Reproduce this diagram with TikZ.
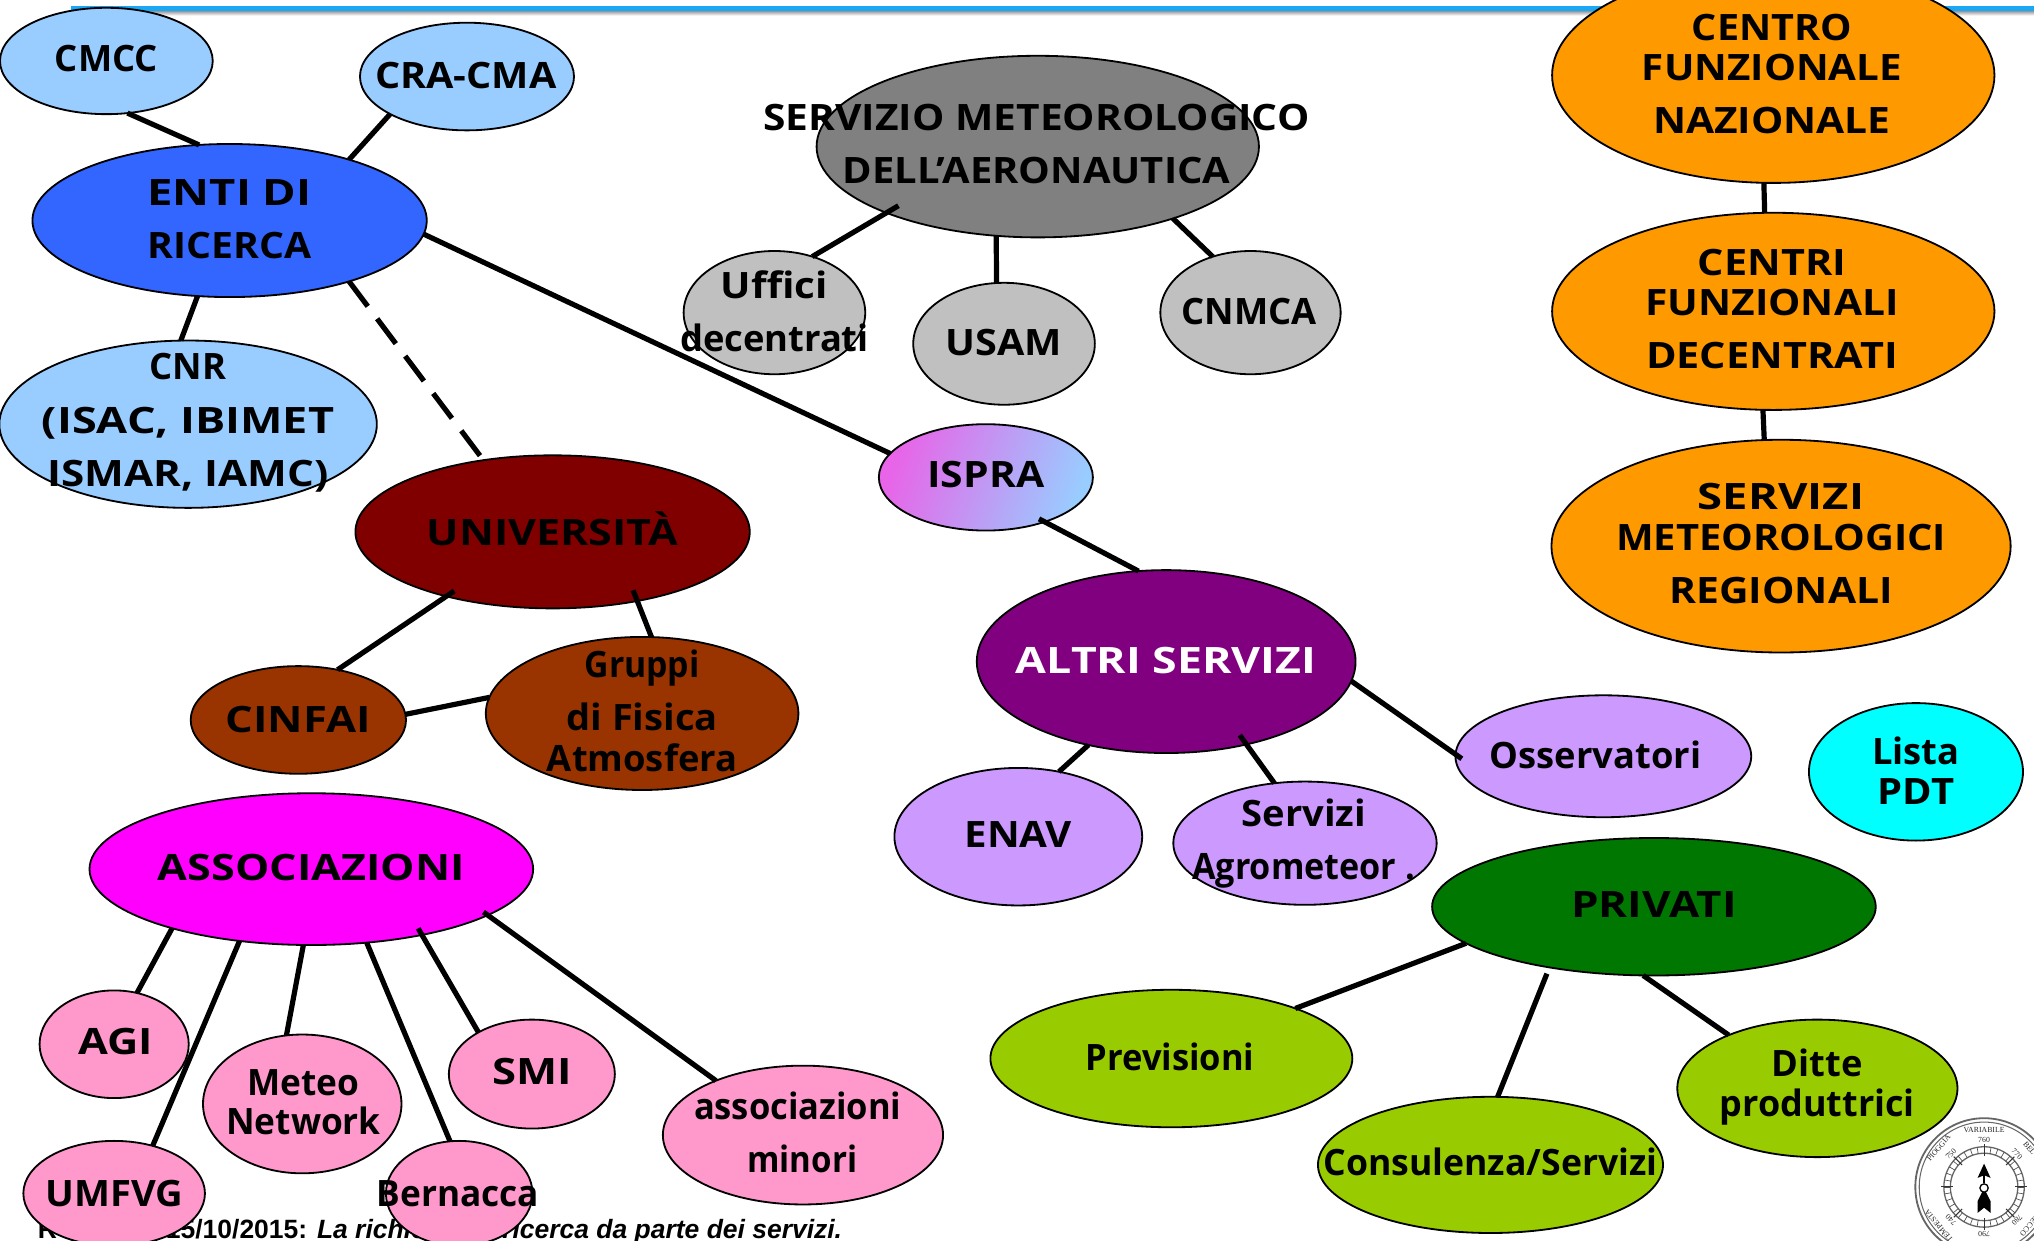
\documentclass[tikz,border=0pt]{standalone}
\usepackage{fontspec}
\setmainfont{Open Sans}[BoldFont={Open Sans Bold}]
\newfontfamily\foot{Liberation Sans}
\newfontfamily\baro{Liberation Serif}
\usetikzlibrary{shapes.geometric,calc}
\definecolor{ricerca}{HTML}{99CCFF}
\definecolor{enti}{HTML}{3366FF}
\definecolor{grigio}{HTML}{808080}
\definecolor{argento}{HTML}{C0C0C0}
\definecolor{arancio}{HTML}{FF9900}
\definecolor{bordeaux}{HTML}{800000}
\definecolor{viola}{HTML}{800080}
\definecolor{ruggine}{HTML}{993300}
\definecolor{lilla}{HTML}{CC99FF}
\definecolor{verde}{HTML}{007700}
\definecolor{lime}{HTML}{99CC00}
\definecolor{rosa}{HTML}{FF99CC}
\definecolor{barra}{HTML}{1AA7F5}
\definecolor{ciano}{HTML}{00FFFF}
\definecolor{fucsia}{HTML}{FF00FF}
\definecolor{orchidea}{HTML}{E864E8}
\tikzset{
  ell/.style={ellipse,draw=black,line width=1.4pt,inner sep=0pt,outer sep=0pt},
  lab/.style={inner sep=0pt,outer sep=0pt,align=center,font=\fontsize{28}{41}\selectfont\bfseries,text=black},
  conn/.style={line width=4pt,black},
  baroring/.style={draw=black!60,line width=1pt},
  barotxt/.style={inner sep=0pt,font=\fontsize{6}{7}\selectfont\baro,text=black!85}
}
\newcommand{\blob}[6]{\node[ell,fill=#6,minimum width=#4pt,minimum height=#5pt] (#1) at (#2,#3) {};}
\newcommand{\lab}[4]{\node[lab] (#1-t) at (#2,#3) {#4};}
\newcommand{\sx}[2]{\scalebox{#1}[1]{#2}}
\newcommand{\conn}[4]{\draw[conn] (#1.#2) -- (#3.#4);}
% connector whose start is not on the border: #3 is the fraction of the way from centre to border
\newcommand{\connin}[5]{\draw[conn] ($(#1.center)!#3!(#1.#2)$) -- (#4.#5);}
\begin{document}
\begin{tikzpicture}[x=1pt,y=-1pt]
\useasboundingbox (0,0) rectangle (1568,956);
\clip (0,0) rectangle (1568,956);
% top bar with its shadow
\shade[top color=black!40,bottom color=white] (55,8.5) rectangle (1568,12);
\fill[barra] (55,4.5) rectangle (1568,8.5);
% footer (behind the ellipses)
\node[anchor=base west,inner sep=0pt,font=\fontsize{20.4}{22}\selectfont\foot\bfseries] (foot) at (29,954.5) {R\hspace{84pt}15/10/2015: \itshape La richiesta di ricerca da parte dei servizi.};
% ellipses
\blob{cmcc}{82}{47}{164}{82}{ricerca}
\blob{cra}{360}{59}{165}{83}{ricerca}
\blob{enti}{177}{170}{304}{118}{enti}
\blob{cnr}{145}{327}{291}{129}{ricerca}
\blob{sma}{800}{113}{341}{140}{grigio}
\blob{uff}{597}{241}{140}{95}{argento}
\blob{usam}{774}{265}{140}{94}{argento}
\blob{cnmca}{964}{241}{139}{95}{argento}
\blob{cfn}{1367}{58}{341}{166}{arancio}
\blob{cfd}{1367}{240}{341}{152}{arancio}
\blob{smr}{1373}{421}{354}{164}{arancio}
\blob{univ}{426}{410}{304}{118}{bordeaux}
\node[ell,left color=orchidea,right color=ricerca,shading angle=70,minimum width=165pt,minimum height=82pt] (ispra) at (760,368) {};
\blob{altri}{899}{510}{292}{141}{viola}
\blob{cinfai}{230}{555}{166}{83}{ruggine}
\blob{gruppi}{495}{550}{241}{118}{ruggine}
\blob{oss}{1236}{583}{228}{94}{lilla}
\blob{lista}{1477}{595}{165}{106}{ciano}
\blob{enav}{785}{645}{191}{106}{lilla}
\blob{agro}{1006}{650}{203}{95}{lilla}
\blob{priv}{1275}{699}{342}{106}{verde}
\blob{assoc}{240}{670}{342}{117}{fucsia}
\blob{agi}{88}{805}{115}{83}{rosa}
\blob{meteo}{233}{851}{153}{107}{rosa}
\blob{smi}{410}{828}{128}{84}{rosa}
\blob{minori}{619}{875}{216}{107}{rosa}
\blob{umfvg}{88}{920}{140}{81}{rosa}
\blob{bern}{354}{920}{113}{81}{rosa}
\blob{prev}{903}{816}{279}{106}{lime}
\blob{cons}{1149}{898}{266}{105}{lime}
\blob{ditte}{1401}{839}{216}{106}{lime}
% connectors
\conn{cmcc}{292.5}{enti}{112.8}
\conn{cra}{206.6}{enti}{27.3}
\conn{enti}{247.5}{cnr}{95.4}
\draw[conn,dash pattern=on 24pt off 12pt] (enti.333.7) -- (univ.134);
\conn{enti}{-4.2}{ispra}{166.6}
\connin{sma}{203.5}{.906}{uff}{56.9}
\conn{sma}{245.4}{usam}{97.3}
\conn{sma}{-28.3}{cnmca}{124.6}
\conn{cfn}{265}{cfd}{95.3}
\conn{cfd}{264.7}{smr}{99}
\connin{ispra}{-38}{.925}{altri}{107.2}
\connin{univ}{211.5}{.92}{cinfai}{52.4}
\connin{univ}{-36}{.866}{gruppi}{83}
\conn{cinfai}{3.5}{gruppi}{174.1}
\conn{altri}{227.3}{enav}{58.7}
\connin{altri}{-45.5}{.894}{agro}{117}
\draw[conn] (altri.-6.5) -- ($(oss.center)!.958!(oss.181.6)$);
\conn{priv}{191.5}{prev}{22}
\connin{priv}{212.7}{1.086}{cons}{84.4}
\conn{priv}{261.4}{ditte}{149.5}
\conn{assoc}{203.3}{agi}{66.3}
\conn{assoc}{225.5}{umfvg}{51.7}
\conn{assoc}{264}{meteo}{103.2}
\conn{assoc}{-53}{bern}{100.4}
\connin{assoc}{-29.6}{.917}{smi}{142.9}
\connin{assoc}{-14.5}{.96}{minori}{148.7}
% labels
\lab{cmcc}{82}{45}{CMCC}
\lab{cra}{359}{58}{\sx{1.09}{CRA-CMA}}
\lab{enti}{177}{169}{\sx{1.25}{ENTI DI}\\\sx{1.08}{RICERCA}}
\lab{cnr}{145}{326}{CNR\\\sx{1.24}{(ISAC, IBIMET}\\\sx{1.16}{ISMAR, IAMC)}}
\lab{sma}{799}{111}{\sx{1.12}{SERVIZIO METEOROLOGICO}\\\sx{1.1}{DELL'AERONAUTICA}}
\lab{uff}{597}{240}{\sx{1.11}{Uffici}\\decentrati}
\lab{usam}{774}{264}{\sx{1.09}{USAM}}
\lab{cnmca}{963}{240}{CNMCA}
\lab{cfn}{1366}{57}{\sx{1.09}{CENTRO}\hspace{12pt}\\[-10pt]\sx{1.11}{FUNZIONALE}\\\sx{1.12}{NAZIONALE}}
\lab{cfd}{1366}{238}{\sx{1.14}{CENTRI}\hspace{12pt}\\[-10pt]\sx{1.12}{FUNZIONALI}\\\sx{1.14}{DECENTRATI}}
\lab{smr}{1373}{419}{\sx{1.25}{SERVIZI}\hspace{12pt}\\[-10pt]\sx{1.1}{METEOROLOGICI}\\\sx{1.125}{REGIONALI}}
\lab{univ}{426}{408}{\sx{1.185}{UNIVERSITÀ}}
\lab{ispra}{760}{366}{\sx{1.125}{ISPRA}}
\node[lab,text=white] (altri-t) at (899,509) {\sx{1.23}{ALTRI SERVIZI}};
\lab{cinfai}{230}{555}{\sx{1.2}{CINFAI}}
\lab{gruppi}{495}{548}{\sx{.93}{Gruppi}\\\sx{1.05}{di Fisica}\\[-10pt]Atmosfera}
\lab{oss}{1230}{582}{Osservatori}
\lab{lista}{1477}{594}{Lista\\[-10pt]\sx{1.1}{PDT}}
\lab{enav}{785}{643}{\sx{1.11}{ENAV}}
\lab{agro}{1005}{650}{\sx{1.05}{Servizi}\\\sx{.94}{Agrometeor .}}
\lab{priv}{1275}{697}{\sx{1.21}{PRIVATI}}
\lab{assoc}{240}{669}{\sx{1.19}{ASSOCIAZIONI}}
\lab{agi}{89}{803}{\sx{1.19}{AGI}}
\lab{meteo}{234}{850}{\sx{.97}{Meteo}\\[-11pt]\sx{.97}{Network}}
\lab{smi}{410}{826}{\sx{1.2}{SMI}}
\lab{minori}{615}{873}{\sx{.95}{associazioni}\hspace{5pt}\\\hspace{7pt}\sx{.91}{minori}}
\lab{umfvg}{88}{920}{\sx{1.05}{UMFVG}}
\lab{bern}{353}{920}{\sx{.97}{Bernacca}}
\lab{prev}{902}{815}{\sx{.95}{Previsioni}}
\lab{cons}{1149}{896}{\sx{.98}{Consulenza/Servizi}}
\lab{ditte}{1401}{838}{Ditte\hspace{12pt}\\[-10pt]\sx{.99}{produttrici}}
% barometer dial
\begin{scope}[shift={(1529.5,915)}]
  \draw[baroring,line width=1.4pt] (0,0) circle[radius=53];
  \draw[baroring,line width=.8pt] (0,0) circle[radius=50];
  \draw[baroring] (0,0) circle[radius=31];
  \draw[baroring] (0,0) circle[radius=26];
  \foreach \a in {0,10,...,350} {\draw[black!70,line width=.5pt] (\a:26) -- (\a:31);}
  \foreach \a in {0,45,...,315} {\draw[black!80,line width=.8pt] (\a:24) -- (\a:33);}
  \node[barotxt] (b1) at (0,-44) {VARIABILE};
  \node[barotxt] (b2) at (0,-36.5) {760};
  \node[barotxt,rotate=45] (b3) at (-25.5,-25.5) {750};
  \node[barotxt,rotate=-45] (b4) at (25.5,-25.5) {770};
  \node[barotxt,rotate=50] (b5) at (-35,-30) {PIOGGIA};
  \node[barotxt,rotate=-50] (b6) at (35,-30) {BEL};
  \node[barotxt,rotate=135] (b7) at (-25.5,25.5) {740};
  \node[barotxt,rotate=-135] (b8) at (25.5,25.5) {780};
  \node[barotxt,rotate=130] (b9) at (-35,30) {TEMPESTA};
  \node[barotxt,rotate=-130] (b10) at (35,30) {SECCO};
  \node[barotxt,rotate=180] (b11) at (0,36.5) {790};
  \draw[line width=1.6pt,black] (0,-14) -- (0,-3);
  \fill[black] (0,-18) -- (5,-7) -- (0,-9) -- (-5,-7) -- cycle;
  \draw[line width=1pt,black,fill=white] (0,0.8) circle[radius=3.2];
  \fill[black] (0,4) -- (-1.5,4) -- (-5,11) -- (-5,20) -- (0,16) -- (5,20) -- (5,11) -- (1.5,4) -- cycle;
\end{scope}
\end{tikzpicture}
\end{document}
